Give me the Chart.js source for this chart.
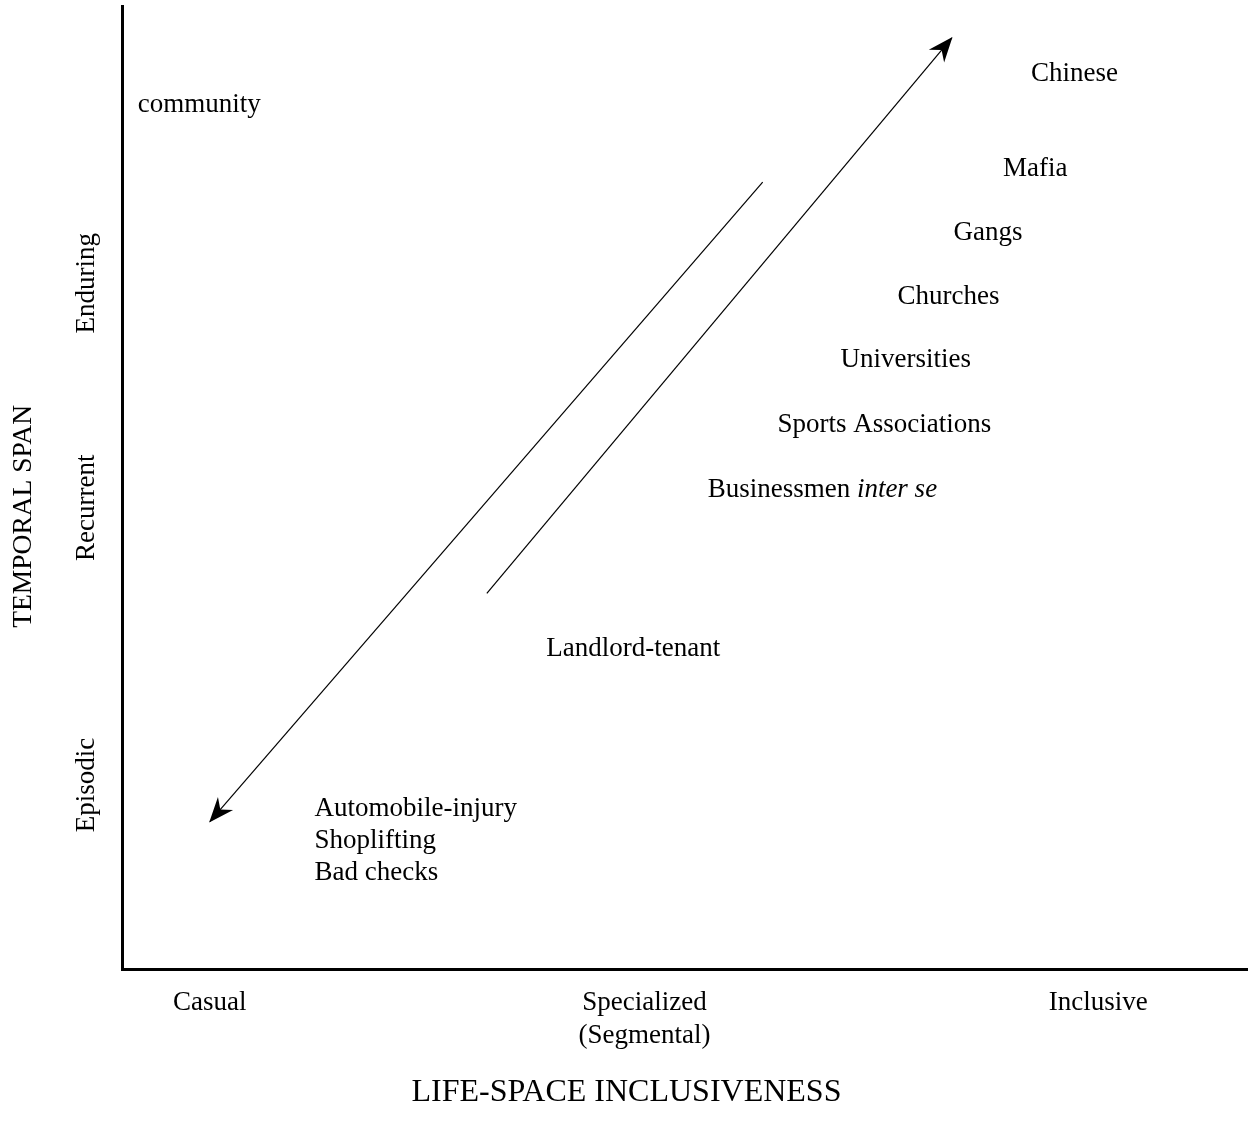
<!DOCTYPE html>
<html>
<head>
<meta charset="utf-8">
<script src="https://cdn.jsdelivr.net/npm/chart.js@4.4.1/dist/chart.umd.min.js"></script>
<style>
  html, body { margin: 0; padding: 0; background: #fff; }
  #wrap { width: 1248px; height: 1129px; }
</style>
</head>
<body>
<div id="wrap"><canvas id="chart"></canvas></div>
<script>
// categories on the axes
const xCategories = [['Casual'], ['Specialized', '(Segmental)'], ['Inclusive']];
const xCategoryPos = [7.8, 46.4, 86.7];
const yCategories = ['Enduring', 'Recurrent', 'Episodic'];
const yCategoryPos = [71.2, 47.9, 19.1];

// the relationship types placed in the plane
const itemLabels = ['community', 'Chinese', 'Mafia', 'Gangs', 'Churches', 'Universities',
  'Sports Associations', 'Businessmen', 'Landlord-tenant',
  'Automobile-injury', 'Shoplifting', 'Bad checks'];
const itemX = [1.4, 84.6, 81.1, 76.9, 73.4, 69.6, 67.7, 62.2, 45.4, 17.1, 17.1, 17.1];
const itemY = [89.7, 93.0, 83.1, 76.4, 69.8, 63.2, 56.5, 49.7, 33.2, 16.6, 13.3, 10.0];

// two arrows: [start, end], head at end
const arrowDown = [{ x: 56.9, y: 81.7 }, { x: 7.8, y: 15.3 }];
const arrowUp = [{ x: 32.4, y: 39.0 }, { x: 73.7, y: 96.7 }];

const FONT = '"Liberation Serif", "Times New Roman", serif';
const SIZE = 27;

function drawHead(ctx, from, to) {
    const ang = Math.atan2(to.y - from.y, to.x - from.x);
    const len = 24, half = 10, notch = 16;
    ctx.save();
    ctx.translate(to.x, to.y);
    ctx.rotate(ang);
    ctx.beginPath();
    ctx.moveTo(1, 0);
    ctx.lineTo(-len, -half);
    ctx.lineTo(-notch, 0);
    ctx.lineTo(-len, half);
    ctx.closePath();
    ctx.fillStyle = '#000';
    ctx.fill();
    ctx.restore();
}

const textPlugin = {
    id: 'textPlugin',
    afterDraw(chart) {
        const ctx = chart.ctx;
        const xs = chart.scales.x, ys = chart.scales.y;
        ctx.save();
        ctx.fillStyle = '#000';
        ctx.textBaseline = 'middle';
        ctx.font = SIZE + 'px ' + FONT;

        // items
        itemLabels.forEach((lab, i) => {
            const px = xs.getPixelForValue(itemX[i]);
            const py = ys.getPixelForValue(itemY[i]);
            if (i === 0 || i >= 9) {
                ctx.textAlign = 'left';
                ctx.fillText(lab, px, py);
            } else if (lab === 'Businessmen') {
                const w1 = ctx.measureText(lab + ' ').width;
                ctx.font = 'italic ' + SIZE + 'px ' + FONT;
                const w2 = ctx.measureText('inter se').width;
                ctx.font = SIZE + 'px ' + FONT;
                ctx.textAlign = 'left';
                const start = px - (w1 + w2) / 2;
                ctx.fillText(lab + ' ', start, py);
                ctx.font = 'italic ' + SIZE + 'px ' + FONT;
                ctx.fillText('inter se', start + w1, py);
                ctx.font = SIZE + 'px ' + FONT;
            } else {
                ctx.textAlign = 'center';
                ctx.fillText(lab, px, py);
            }
        });

        // x categories
        ctx.textAlign = 'center';
        xCategories.forEach((lines, i) => {
            const px = xs.getPixelForValue(xCategoryPos[i]);
            lines.forEach((l, j) => ctx.fillText(l, px, xs.bottom + 26 + j * 33));
        });
        ctx.font = '32px ' + FONT;
        ctx.fillText('LIFE-SPACE INCLUSIVENESS', xs.getPixelForValue(44.8), xs.bottom + 116);

        // y categories, rotated
        ctx.font = SIZE + 'px ' + FONT;
        yCategories.forEach((l, i) => {
            const py = ys.getPixelForValue(yCategoryPos[i]);
            ctx.save();
            ctx.translate(ys.left - 27, py);
            ctx.rotate(-Math.PI / 2);
            ctx.fillText(l, 0, 0);
            ctx.restore();
        });
        ctx.font = '27.5px ' + FONT;
        ctx.save();
        ctx.translate(24, ys.getPixelForValue(47.0));
        ctx.rotate(-Math.PI / 2);
        ctx.fillText('TEMPORAL SPAN', 0, 0);
        ctx.restore();

        // arrowheads
        [arrowDown, arrowUp].forEach(a => {
            const p0 = { x: xs.getPixelForValue(a[0].x), y: ys.getPixelForValue(a[0].y) };
            const p1 = { x: xs.getPixelForValue(a[1].x), y: ys.getPixelForValue(a[1].y) };
            drawHead(ctx, p0, p1);
        });
        ctx.restore();
    }
};

new Chart(document.getElementById('chart'), {
    type: 'scatter',
    data: {
        datasets: [
            { data: arrowDown, showLine: true, borderColor: '#000', borderWidth: 1.2, pointRadius: 0 },
            { data: arrowUp, showLine: true, borderColor: '#000', borderWidth: 1.2, pointRadius: 0 }
        ]
    },
    options: {
        responsive: true,
        maintainAspectRatio: false,
        animation: false,
        layout: { padding: { left: 114, top: 6, right: 0, bottom: 152 } },
        plugins: { legend: { display: false }, tooltip: { enabled: false } },
        scales: {
            x: {
                min: 0, max: 100,
                ticks: { display: false },
                grid: { display: false },
                border: { display: true, color: '#000', width: 3 }
            },
            y: {
                min: 0, max: 100,
                ticks: { display: false },
                grid: { display: false },
                border: { display: true, color: '#000', width: 3 }
            }
        }
    },
    plugins: [textPlugin]
});
</script>
</body>
</html>
